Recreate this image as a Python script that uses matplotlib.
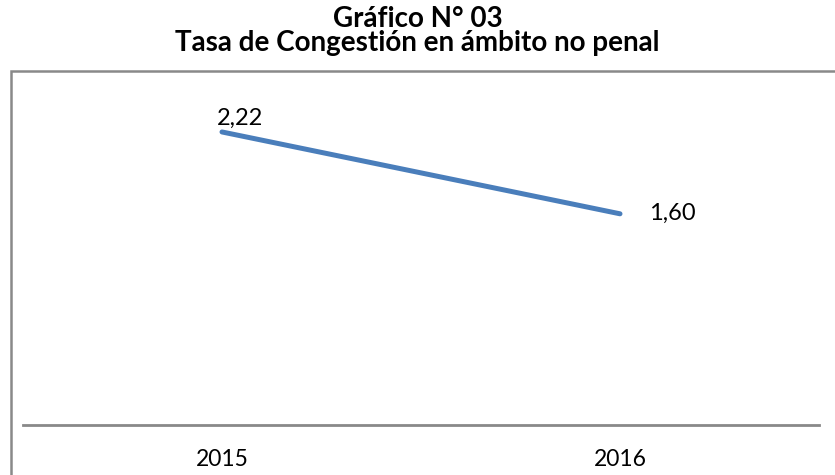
import matplotlib.pyplot as plt
from matplotlib.patches import Rectangle

# data
years = ["2015", "2016"]
tasa = [2.22, 1.60]
labels = ["2,22", "1,60"]

plt.rcParams['font.family'] = ['Lato', 'DejaVu Sans']

fig = plt.figure(figsize=(8.35, 4.75), dpi=100)
W, H = 835, 475

# outer chart border (runs off the right/bottom edge)
fig.patches.append(Rectangle((11 / W, -0.1), 1.1, (H - 71) / H + 0.1,
                             transform=fig.transFigure, fill=False,
                             edgecolor="#898989", linewidth=1.8))

ax = fig.add_axes([23 / W, (H - 425) / H, (819 - 23) / W, (425 - 95) / H])
x = [0.5, 1.5]
ax.plot(x, tasa, color="#4A7EBB", linewidth=3.6, solid_capstyle="round")
ax.set_xlim(0, 2)
ax.set_ylim(0, 2.5)

for sp in ["top", "right", "left"]:
    ax.spines[sp].set_visible(False)
ax.spines["bottom"].set_color("#898989")
ax.spines["bottom"].set_linewidth(2)
ax.set_yticks([])
ax.set_xticks(x)
ax.set_xticklabels(years, fontsize=16.5)
ax.tick_params(axis="x", length=0, pad=17)

ax.annotate(labels[0], (x[0], tasa[0]), xytext=(-4, 2), textcoords="offset points",
            ha="left", va="bottom", fontsize=17)
ax.annotate(labels[1], (x[1], tasa[1]), xytext=(21, 0), textcoords="offset points",
            ha="left", va="center", fontsize=17)

fig.text(0.5, 1 - 27 / H, "Gráfico N° 03", ha="center", va="baseline",
         fontsize=20, fontweight="bold")
fig.text(0.5, 1 - 51 / H, "Tasa de Congestión en ámbito no penal", ha="center",
         va="baseline", fontsize=20, fontweight="bold")

fig.savefig("out.png", dpi=100)
